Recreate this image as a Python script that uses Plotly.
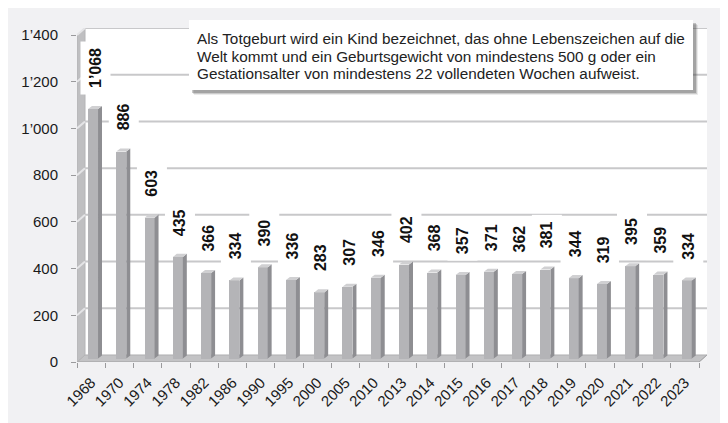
import plotly.graph_objects as go

# ---- data ----
years = ["1968", "1970", "1974", "1978", "1982", "1986", "1990", "1995", "2000", "2005", "2010",
         "2013", "2014", "2015", "2016", "2017", "2018", "2019", "2020", "2021", "2022", "2023"]
stillbirths = [1068, 886, 603, 435, 366, 334, 390, 336, 283, 307, 346,
               402, 368, 357, 371, 362, 381, 344, 319, 395, 359, 334]
y_tickvals = [0, 200, 400, 600, 800, 1000, 1200, 1400]
y_ticktext = ["0", "200", "400", "600", "800", "1’000", "1’200", "1’400"]
note_lines = [
    "Als Totgeburt wird ein Kind bezeichnet, das ohne Lebenszeichen auf die",
    "Welt kommt und ein Geburtsgewicht von mindestens 500 g oder ein",
    "Gestationsalter von mindestens 22 vollendeten Wochen aufweist.",
]

def fmt(v):
    return f"{v:,}".replace(",", "’")

FONT = "Liberation Sans, Arial, sans-serif"

# ---- pseudo-3D geometry (axis units) ----
n = len(years)
xs = list(range(n))
DX = 0.283          # depth shift along x (categories)
DY = 30             # depth shift along y (value units)
YMAX = y_tickvals[-1]
XL, XR = -0.5, n - 0.5
BASE = DY / 2       # bars stand mid-depth
F_OFF, F_W = -0.11, 0.354
SX, SY = 0.14, 13

W, H = 728, 423
ML, MR, MT, MB = 69, 29, 20, 69
PW, PH = W - ML - MR, H - MT - MB

def px_x(p):
    return (p - ML) / PW

def px_y(p):
    return (H - MB - p) / PH

def path(pts):
    return "M " + " L ".join(f"{x},{y}" for x, y in pts) + " Z"

shapes = []
# back wall
shapes.append(dict(type="path", xref="x", yref="y", layer="below",
                   path=path([(XL + DX, DY), (XR + DX, DY), (XR + DX, YMAX + DY), (XL + DX, YMAX + DY)]),
                   fillcolor="white", line=dict(width=0)))
# floor
shapes.append(dict(type="path", xref="x", yref="y", layer="below",
                   path=path([(XL, 0), (XR, 0), (XR + DX, DY), (XL + DX, DY)]),
                   fillcolor="#c3c3c5", line=dict(width=1, color="#b0b0b2")))
# left wall
shapes.append(dict(type="path", xref="x", yref="y", layer="below",
                   path=path([(XL, 0), (XL + DX, DY), (XL + DX, YMAX + DY), (XL, YMAX)]),
                   fillcolor="#bfbfc1", line=dict(width=1, color="#b4b4b6")))
# gridlines
for t in y_tickvals[1:]:
    shapes.append(dict(type="line", xref="x", yref="y", layer="below",
                       x0=XL + DX, x1=XR + DX, y0=t + DY, y1=t + DY,
                       line=dict(color="#c8c8ca", width=2)))
    shapes.append(dict(type="line", xref="x", yref="y", layer="below",
                       x0=XL, x1=XL + DX, y0=t, y1=t + DY,
                       line=dict(color="#e4e4e6", width=2)))
# front floor edge
shapes.append(dict(type="path", xref="x", yref="y", layer="below",
                   path=f"M {XL},0 L {XR},0 L {XR + DX},{DY}",
                   line=dict(color="#a8a8aa", width=1)))
# note box with shadow
BX0, BX1, BY0, BY1 = 181, 685, 12, 82
for k, a in [(5, 0.10), (4, 0.18), (3, 0.28)]:
    shapes.append(dict(type="rect", xref="paper", yref="paper", layer="above",
                       x0=px_x(BX0 + k), x1=px_x(BX1 + k), y0=px_y(BY1 + k), y1=px_y(BY0 + k),
                       fillcolor=f"rgba(60,60,60,{a})", line=dict(width=0)))
shapes.append(dict(type="rect", xref="paper", yref="paper", layer="above",
                   x0=px_x(BX0), x1=px_x(BX1), y0=px_y(BY1), y1=px_y(BY0),
                   fillcolor="white", line=dict(width=0)))

fig = go.Figure()

# bar front faces
fig.add_trace(go.Bar(x=xs, y=stillbirths, base=[BASE] * n, width=F_W, offset=F_OFF,
                     marker=dict(color="#b4b4b7", line=dict(width=0)), showlegend=False,
                     hoverinfo="skip"))

# bar side faces & top faces
side_x, side_y, top_x, top_y = [], [], [], []
for i, v in zip(xs, stillbirths):
    xl = i + F_OFF
    xr = xl + F_W
    top = BASE + v
    side_x += [xr, xr + SX, xr + SX, xr, xr, None]
    side_y += [BASE, BASE + SY, top + SY, top, BASE, None]
    top_x += [xl, xr, xr + SX, xl + SX, xl, None]
    top_y += [top, top, top + SY, top + SY, top, None]
fig.add_trace(go.Scatter(x=side_x, y=side_y, mode="lines", fill="toself", fillcolor="#8e8e92",
                         line=dict(width=0, color="#8e8e92"), hoverinfo="skip", showlegend=False))
fig.add_trace(go.Scatter(x=top_x, y=top_y, mode="lines", fill="toself", fillcolor="#d0d0d2",
                         line=dict(width=0, color="#d0d0d2"), hoverinfo="skip", showlegend=False))

annotations = []
for i, v in zip(xs, stillbirths):
    annotations.append(dict(
        x=i + F_OFF + (F_W + SX) / 2, y=BASE + v + SY, xref="x", yref="y",
        text=f"<b>{fmt(v)}</b>", showarrow=False, textangle=-90,
        xanchor="center", yanchor="bottom", yshift=11,
        bgcolor="white", borderpad=6,
        font=dict(family=FONT, size=16, color="#111111")))

for j, line in enumerate(note_lines):
    annotations.append(dict(
        x=px_x(187), y=px_y(31 + 17 * j), xref="paper", yref="paper",
        xanchor="left", yanchor="middle", text=line, showarrow=False, align="left",
        font=dict(family=FONT, size=15.3, color="#222222")))

fig.update_layout(
    width=W, height=H,
    margin=dict(l=ML, r=MR, t=MT, b=MB, pad=0),
    paper_bgcolor="#f1f1f3", plot_bgcolor="rgba(0,0,0,0)",
    font=dict(family=FONT, size=15, color="#1a1a1a"),
    bargap=0, barmode="overlay", showlegend=False,
    annotations=annotations, shapes=shapes,
)
fig.update_xaxes(
    range=[XL, XR + DX], tickmode="array", tickvals=xs, ticktext=years,
    tickangle=-45, tickfont=dict(size=15), ticks="", showgrid=False, zeroline=False,
    showline=False, ticklabelstandoff=8,
    minor=dict(tickmode="array", tickvals=[i - 0.5 for i in range(n + 1)],
               ticks="outside", ticklen=5, tickcolor="#9a9a9c", tickwidth=1, showgrid=False),
)
fig.update_yaxes(
    range=[0, YMAX + DY], tickmode="array", tickvals=y_tickvals, ticktext=y_ticktext,
    ticks="outside", ticklen=5, tickcolor="#9a9a9c", tickfont=dict(size=15),
    showgrid=False, zeroline=False, showline=False, ticklabelstandoff=10,
)

fig.write_html("out.html")
